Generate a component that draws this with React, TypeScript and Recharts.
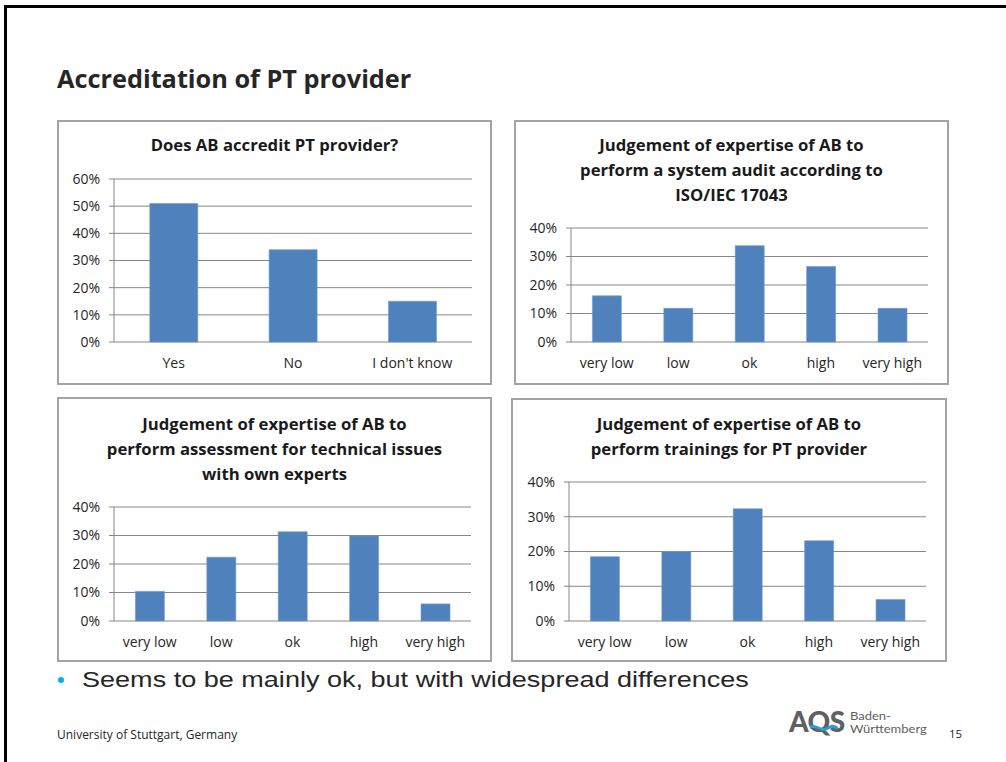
import React from 'react';
import { BarChart, Bar, XAxis, YAxis, CartesianGrid } from 'recharts';

const slideTitle = 'Accreditation of PT provider';
const bulletText = 'Seems to be mainly ok, but with widespread differences';
const footerText = 'University of Stuttgart, Germany';
const pageNumber = '15';

const accreditCategories = ['Yes', 'No', "I don't know"];
const accreditValues = [0.51, 0.34, 0.15];

const ratingCategories = ['very low', 'low', 'ok', 'high', 'very high'];
const systemAuditValues = [0.162, 0.118, 0.338, 0.265, 0.118];
const technicalValues = [0.104, 0.224, 0.313, 0.299, 0.06];
const trainingValues = [0.185, 0.2, 0.323, 0.231, 0.062];

const ticks60 = [0, 0.1, 0.2, 0.3, 0.4, 0.5, 0.6];
const ticks40 = [0, 0.1, 0.2, 0.3, 0.4];

const title1 = ['Does AB accredit PT provider?'];
const title2 = ['Judgement of expertise of AB to', 'perform a system audit according to', 'ISO/IEC 17043'];
const title3 = ['Judgement of expertise of AB to', 'perform assessment for technical issues', 'with own experts'];
const title4 = ['Judgement of expertise of AB to', 'perform trainings for PT provider'];

const BAR = '#4F81BD';
const GRID = '#868686';
const FONT = '"Open Sans", Lato, sans-serif';

type Rect = { left: number; top: number; right: number; bottom: number };

function buildRows(cats: string[], vals: number[]) {
  return cats.map((c, i) => ({ cat: c, value: vals[i] }));
}

function pct(v: number) {
  return `${Math.round(v * 100)}%`;
}

function Panel(props: {
  box: Rect;
  plot: Rect;
  titleTop: number;
  titleLines: string[];
  categories: string[];
  values: number[];
  yTicks: number[];
}) {
  const { box, plot, titleTop, titleLines, categories, values, yTicks } = props;
  const w = box.right - box.left;
  const h = box.bottom - box.top;
  const xAxisH = 30;
  const rows = buildRows(categories, values);
  const n = categories.length;
  const edgeTicks = categories.map((_, i) => i).concat([n]);
  return (
    <div style={{ position: 'absolute', left: box.left, top: box.top, width: w, height: h }}>
      <div
        style={{
          position: 'absolute',
          left: 0,
          top: 0,
          width: w,
          height: h,
          boxSizing: 'border-box',
          border: '2px solid #a3a3a3',
        }}
      />
      <div
        style={{
          position: 'absolute',
          left: 0,
          width: w,
          top: titleTop - box.top,
          textAlign: 'center',
          fontFamily: FONT,
          fontWeight: 700,
          fontSize: 16.7,
          lineHeight: '25px',
          color: '#1a1a1a',
          whiteSpace: 'nowrap',
        }}
      >
        {titleLines.map((t, i) => (
          <div key={i}>{t}</div>
        ))}
      </div>
      <div style={{ position: 'absolute', left: 0, top: 0 }}>
        <BarChart
          width={w}
          height={h}
          data={rows}
          barCategoryGap="30%"
          margin={{
            top: plot.top - box.top,
            right: box.right - plot.right,
            left: 0,
            bottom: box.bottom - plot.bottom - xAxisH,
          }}
        >
          <CartesianGrid vertical={false} stroke={GRID} strokeWidth={1} />
          <XAxis
            xAxisId="edge"
            type="number"
            domain={[0, n]}
            ticks={edgeTicks}
            allowDataOverflow
            height={0}
            tick={false}
            tickSize={5}
            tickLine={{ stroke: GRID }}
            axisLine={{ stroke: GRID }}
          />
          <XAxis
            dataKey="cat"
            height={xAxisH}
            tickLine={false}
            axisLine={false}
            tickSize={8}
            tickMargin={8}
            interval={0}
            tick={{ fontFamily: FONT, fontSize: 14, fill: '#262626' }}
          />
          <YAxis
            width={plot.left - box.left}
            domain={[yTicks[0], yTicks[yTicks.length - 1]]}
            ticks={yTicks}
            tickFormatter={pct}
            tickSize={5}
            tickMargin={9}
            tickLine={{ stroke: GRID }}
            axisLine={{ stroke: GRID }}
            tick={{ fontFamily: FONT, fontSize: 14, fill: '#262626' }}
          />
          <Bar dataKey="value" fill={BAR} stroke="#6f9bd0" strokeWidth={0.6} isAnimationActive={false} />
        </BarChart>
      </div>
    </div>
  );
}

export default function App() {
  return (
    <div
      style={{
        position: 'absolute',
        left: 0,
        top: 0,
        width: 1006,
        height: 762,
        background: '#ffffff',
        overflow: 'hidden',
        fontFamily: FONT,
      }}
    >
      <div style={{ position: 'absolute', left: 4, top: 5, width: 1010, height: 3, background: '#000' }} />
      <div style={{ position: 'absolute', left: 4, top: 5, width: 3, height: 770, background: '#000' }} />

      <div
        style={{
          position: 'absolute',
          left: 57,
          top: 63,
          fontFamily: FONT,
          fontWeight: 700,
          fontSize: 25.3,
          lineHeight: '30px',
          color: '#262626',
          whiteSpace: 'nowrap',
        }}
      >
        {slideTitle}
      </div>

      <Panel
        box={{ left: 57, top: 120, right: 492, bottom: 385 }}
        plot={{ left: 114, top: 179, right: 472, bottom: 342 }}
        titleTop={132}
        titleLines={title1}
        categories={accreditCategories}
        values={accreditValues}
        yTicks={ticks60}
      />
      <Panel
        box={{ left: 514, top: 120, right: 949, bottom: 385 }}
        plot={{ left: 571, top: 228, right: 928, bottom: 342 }}
        titleTop={132}
        titleLines={title2}
        categories={ratingCategories}
        values={systemAuditValues}
        yTicks={ticks40}
      />
      <Panel
        box={{ left: 57, top: 397, right: 492, bottom: 662 }}
        plot={{ left: 114, top: 507, right: 471, bottom: 621 }}
        titleTop={411}
        titleLines={title3}
        categories={ratingCategories}
        values={technicalValues}
        yTicks={ticks40}
      />
      <Panel
        box={{ left: 511, top: 398, right: 947, bottom: 662 }}
        plot={{ left: 569, top: 482, right: 926, bottom: 621 }}
        titleTop={411}
        titleLines={title4}
        categories={ratingCategories}
        values={trainingValues}
        yTicks={ticks40}
      />

      <div
        style={{
          position: 'absolute',
          left: 58,
          top: 677,
          width: 6,
          height: 6,
          borderRadius: 3,
          background: '#00B0F0',
        }}
      />
      <div
        style={{
          position: 'absolute',
          left: 82,
          top: 666,
          fontFamily: '"Liberation Sans", Arial, sans-serif',
          fontSize: 22,
          lineHeight: '28px',
          color: '#262626',
          whiteSpace: 'nowrap',
          transform: 'scaleX(1.229)',
          transformOrigin: '0 0',
        }}
      >
        {bulletText}
      </div>

      <div
        style={{
          position: 'absolute',
          left: 57,
          top: 727,
          fontFamily: FONT,
          fontSize: 12,
          lineHeight: '16px',
          color: '#262626',
          whiteSpace: 'nowrap',
        }}
      >
        {footerText}
      </div>

      <div
        style={{
          position: 'absolute',
          left: 789,
          top: 705,
          fontFamily: 'Lato, sans-serif',
          fontWeight: 900,
          fontSize: 28,
          lineHeight: '32px',
          color: '#5f6062',
          letterSpacing: -0.5,
          whiteSpace: 'nowrap',
        }}
      >
        AQS
      </div>
      <svg style={{ position: 'absolute', left: 810, top: 723 }} width={28} height={12}>
        <path d="M1 4 C 6 1, 11 9, 16 6 S 23 2, 27 5" fill="none" stroke="#2a9fd8" strokeWidth={3} strokeLinecap="round" />
      </svg>
      <div
        style={{
          position: 'absolute',
          left: 850,
          top: 709,
          fontFamily: 'Lato, sans-serif',
          fontSize: 11,
          lineHeight: '13.4px',
          color: '#5f6062',
          whiteSpace: 'nowrap',
          transform: 'scaleX(1.18)',
          transformOrigin: '0 0',
        }}
      >
        <div>Baden-</div>
        <div>Württemberg</div>
      </div>
      <div
        style={{
          position: 'absolute',
          left: 949,
          top: 726,
          fontFamily: FONT,
          fontSize: 11.5,
          lineHeight: '16px',
          color: '#262626',
        }}
      >
        {pageNumber}
      </div>
    </div>
  );
}
